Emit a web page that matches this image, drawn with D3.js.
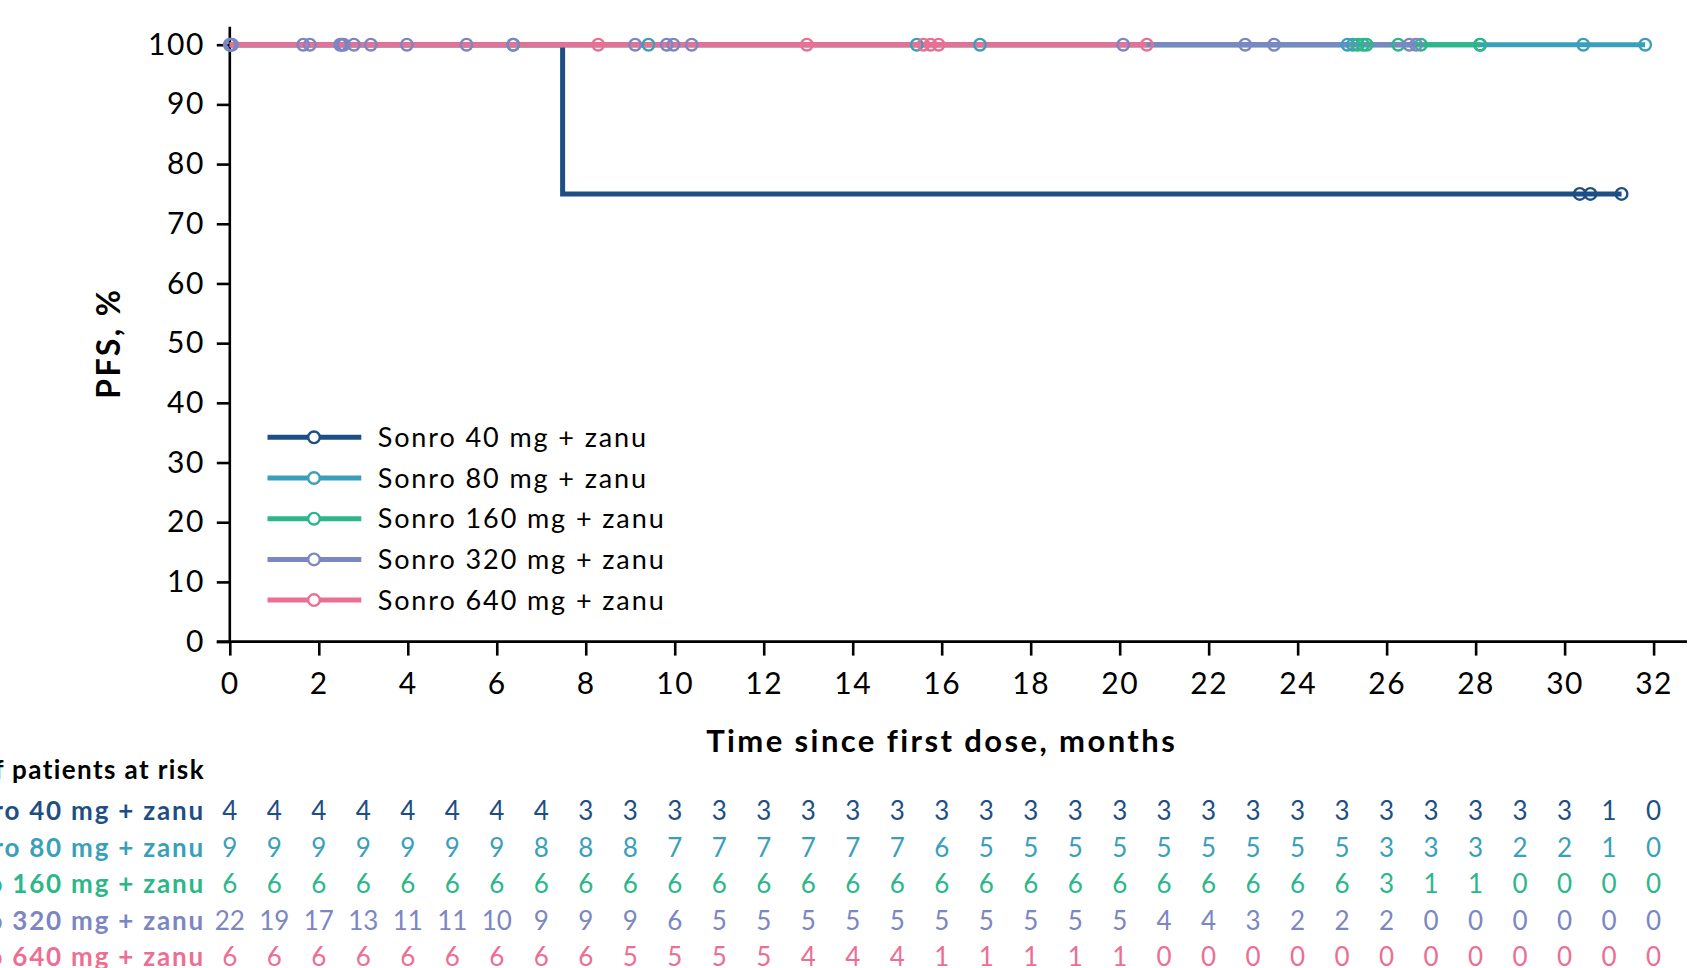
<!DOCTYPE html>
<html>
<head>
<meta charset="utf-8">
<script src="https://cdn.jsdelivr.net/npm/d3@7"></script>
<style>
  html, body { margin: 0; padding: 0; background: #fff; overflow: hidden; }
  svg text { font-family: Lato, "Open Sans", sans-serif; }
</style>
</head>
<body>
<div class="km-chart-container"></div>
<script>
// groups and colours
const groups = ['Sonro 40 mg + zanu', 'Sonro 80 mg + zanu', 'Sonro 160 mg + zanu', 'Sonro 320 mg + zanu', 'Sonro 640 mg + zanu'];
const colors = ['#1d4f85', '#3a9fbb', '#2cb78a', '#7c86c3', '#ec6f93'];

// KM steps [month, PFS %]
const km40 = [[0, 100], [7.48, 75], [31.28, 75]];
const km80 = [[0, 100], [31.81, 100]];
const km160 = [[0, 100], [28.1, 100]];
const km320 = [[0, 100], [26.66, 100]];
const km640 = [[0, 100], [20.61, 100]];

// censored times (months)
const cens40 = [30.34, 30.58, 31.28];
const cens80 = [6.37, 9.41, 15.44, 16.86, 25.12, 25.24, 28.1, 30.42, 31.81];
const cens160 = [25.35, 25.47, 25.55, 26.26, 26.77, 28.1];
const cens320 = [0, 0.02, 0.05, 1.65, 1.8, 2.48, 2.52, 2.56, 2.79, 3.17, 3.98, 5.32, 6.37, 9.11, 9.82, 9.97, 10.38, 20.08, 22.82, 23.47, 26.51, 26.66];
const cens640 = [8.28, 12.97, 15.59, 15.75, 15.93, 20.61];

// ticks
const xTicks = [0, 2, 4, 6, 8, 10, 12, 14, 16, 18, 20, 22, 24, 26, 28, 30, 32];
const yTicks = [0, 10, 20, 30, 40, 50, 60, 70, 80, 90, 100];

// number at risk
const riskTimes = [0, 1, 2, 3, 4, 5, 6, 7, 8, 9, 10, 11, 12, 13, 14, 15, 16, 17, 18, 19, 20, 21, 22, 23, 24, 25, 26, 27, 28, 29, 30, 31, 32];
const risk40 = [4, 4, 4, 4, 4, 4, 4, 4, 3, 3, 3, 3, 3, 3, 3, 3, 3, 3, 3, 3, 3, 3, 3, 3, 3, 3, 3, 3, 3, 3, 3, 1, 0];
const risk80 = [9, 9, 9, 9, 9, 9, 9, 8, 8, 8, 7, 7, 7, 7, 7, 7, 6, 5, 5, 5, 5, 5, 5, 5, 5, 5, 3, 3, 3, 2, 2, 1, 0];
const risk160 = [6, 6, 6, 6, 6, 6, 6, 6, 6, 6, 6, 6, 6, 6, 6, 6, 6, 6, 6, 6, 6, 6, 6, 6, 6, 6, 3, 1, 1, 0, 0, 0, 0];
const risk320 = [22, 19, 17, 13, 11, 11, 10, 9, 9, 9, 6, 5, 5, 5, 5, 5, 5, 5, 5, 5, 5, 4, 4, 3, 2, 2, 2, 0, 0, 0, 0, 0, 0];
const risk640 = [6, 6, 6, 6, 6, 6, 6, 6, 6, 5, 5, 5, 5, 4, 4, 4, 1, 1, 1, 1, 1, 0, 0, 0, 0, 0, 0, 0, 0, 0, 0, 0, 0];

const kmData = [km40, km80, km160, km320, km640];
const censData = [cens40, cens80, cens160, cens320, cens640];
const riskData = [risk40, risk80, risk160, risk320, risk640];

function setupCanvas() {
    const svg_width = 1708;
    const svg_height = 968;

    const svg = d3.select('.km-chart-container').append('svg')
        .attr('width', svg_width).attr('height', svg_height);

    const xScale = d3.scaleLinear().domain([0, 32]).range([229.8, 1653.6]);
    const yScale = d3.scaleLinear().domain([0, 100]).range([641.6, 44.7]);

    // axes
    const yAxis = d3.axisLeft(yScale).tickValues(yTicks).tickSize(13).tickPadding(12);
    const yAxisDraw = svg.append('g').attr('class', 'y axis')
        .attr('transform', `translate(${xScale(0)},0)`).call(yAxis);
    const xAxis = d3.axisBottom(xScale).tickValues(xTicks).tickSize(14).tickPadding(17);
    const xAxisDraw = svg.append('g').attr('class', 'x axis')
        .attr('transform', `translate(0,${yScale(0)})`).call(xAxis);

    [yAxisDraw, xAxisDraw].forEach(a => {
        a.select('.domain').remove();
        a.selectAll('line').attr('stroke', '#000').attr('stroke-width', 2.6);
        a.selectAll('text').attr('fill', '#000')
            .style('font-size', '30px').style('letter-spacing', '1.5px');
    });

    // axis lines
    svg.append('line')
        .attr('x1', xScale(0)).attr('x2', xScale(0))
        .attr('y1', yScale(103)).attr('y2', yScale(0) + 1.3)
        .attr('stroke', '#000').attr('stroke-width', 2.6);
    svg.append('line')
        .attr('x1', xScale(0) - 13).attr('x2', xScale(32.75))
        .attr('y1', yScale(0)).attr('y2', yScale(0))
        .attr('stroke', '#000').attr('stroke-width', 2.6);

    // axis titles
    svg.append('text')
        .attr('x', xScale(16)).attr('y', 752)
        .attr('text-anchor', 'middle')
        .style('font-size', '31px').style('font-weight', 700)
        .style('letter-spacing', '2.4px')
        .text('Time since first dose, months');
    svg.append('text')
        .attr('transform', `translate(120,${yScale(50)}) rotate(-90)`)
        .attr('text-anchor', 'middle')
        .style('font-size', '32px').style('font-weight', 700)
        .style('letter-spacing', '2.4px')
        .text('PFS, %');

    // KM curves
    const line = d3.line()
        .x(d => xScale(d[0]))
        .y(d => yScale(d[1]))
        .curve(d3.curveStepAfter);

    svg.selectAll('.km-line')
        .data(kmData)
        .enter()
        .append('path')
        .attr('class', 'km-line')
        .attr('d', line)
        .attr('fill', 'none')
        .attr('stroke', (d, i) => colors[i])
        .attr('stroke-width', 5);

    // censor marks
    const survAt = (steps, t) => {
        let s = steps[0][1];
        steps.forEach(p => { if (p[0] <= t) s = p[1]; });
        return s;
    };
    censData.forEach((cens, i) => {
        svg.append('g').selectAll('circle')
            .data(cens)
            .enter()
            .append('circle')
            .attr('cx', d => xScale(d))
            .attr('cy', d => yScale(survAt(kmData[i], d)))
            .attr('r', 5.8)
            .attr('fill', 'none')
            .attr('stroke', colors[i])
            .attr('stroke-width', 2.4);
    });

    // legend
    const legend = svg.append('g').attr('class', 'legend');
    groups.forEach((g, i) => {
        const y = 437.3 + i * 40.7;
        legend.append('line')
            .attr('x1', 267.5).attr('x2', 361.3).attr('y1', y).attr('y2', y)
            .attr('stroke', colors[i]).attr('stroke-width', 5);
        legend.append('circle')
            .attr('cx', 314).attr('cy', y).attr('r', 5.8)
            .attr('fill', '#fff').attr('stroke', colors[i]).attr('stroke-width', 2.4);
        legend.append('text')
            .attr('x', 377.7).attr('y', y + 9.5)
            .style('font-size', '27px').style('letter-spacing', '1.9px')
            .attr('fill', '#000')
            .text(g);
    });

    // number at risk table
    const table = svg.append('g').attr('class', 'risk-table');
    table.append('text')
        .attr('x', 205).attr('y', 779)
        .attr('text-anchor', 'end')
        .style('font-size', '26px').style('font-weight', 700)
        .style('letter-spacing', '1.4px')
        .text('No. of patients at risk');
    riskData.forEach((row, i) => {
        const y = 820 + i * 36.6;
        table.append('text')
            .attr('x', 205).attr('y', y)
            .attr('text-anchor', 'end')
            .attr('fill', colors[i])
            .style('font-size', '26px').style('font-weight', 700)
            .style('letter-spacing', '1.8px')
            .text(groups[i]);
        table.append('g').selectAll('text')
            .data(row)
            .enter()
            .append('text')
            .attr('x', (d, j) => xScale(riskTimes[j]))
            .attr('y', y)
            .attr('text-anchor', 'middle')
            .attr('fill', colors[i])
            .style('font-size', '26px')
            .text(d => d);
    });
}

setupCanvas();
</script>
</body>
</html>
